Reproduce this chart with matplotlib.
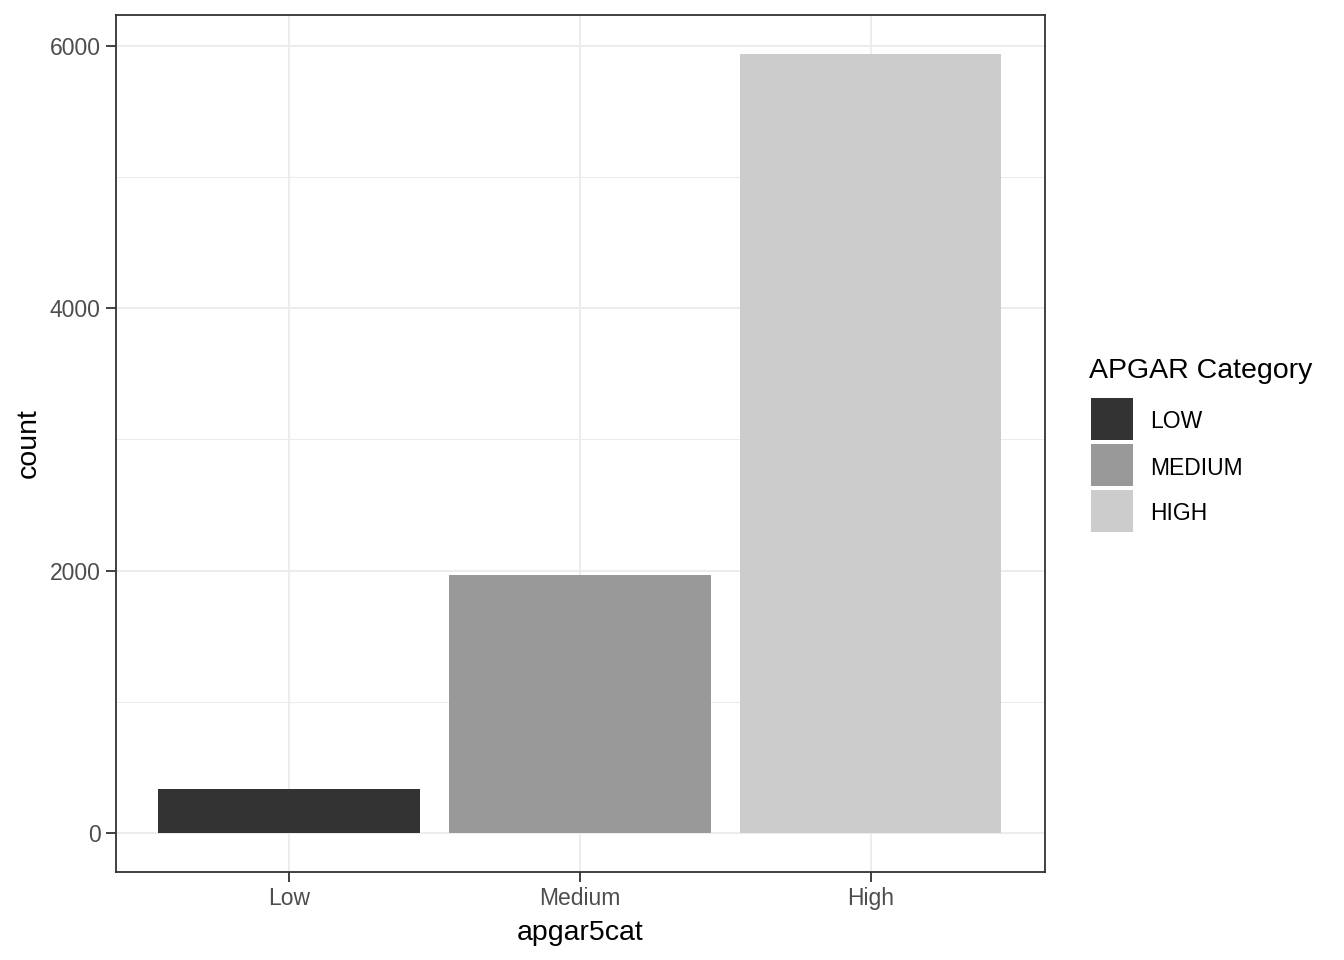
import matplotlib.pyplot as plt
from matplotlib.patches import Rectangle

categories = ['Low', 'Medium', 'High']
counts = [339, 1967, 5939]
legend_labels = ['LOW', 'MEDIUM', 'HIGH']
bar_colors = ['#333333', '#999999', '#CCCCCC']

plt.rcParams['font.family'] = ['Liberation Sans', 'DejaVu Sans']

W, H = 1344, 960
fig = plt.figure(figsize=(W / 100, H / 100), dpi=100)

# panel position in pixels
x0, x1, y0, y1 = 116, 1045, 15, 872
ax = fig.add_axes([x0 / W, 1 - y1 / H, (x1 - x0) / W, (y1 - y0) / H])

xpos = list(range(1, len(categories) + 1))
ax.bar(xpos, counts, width=0.9, color=bar_colors, zorder=3)

ymax = max(counts)
ax.set_xlim(0.405, 3.6)
ax.set_ylim(-0.05 * ymax, 1.05 * ymax)

ax.set_yticks([0, 2000, 4000, 6000])
ax.set_yticks([1000, 3000, 5000], minor=True)
ax.set_xticks(xpos)
ax.set_xticklabels(categories)

ax.grid(True, which='major', color='#EBEBEB', linewidth=1.3, zorder=0)
ax.grid(True, which='minor', axis='y', color='#EBEBEB', linewidth=0.7, zorder=0)
ax.set_axisbelow(True)

for s in ax.spines.values():
    s.set_color('#333333')
    s.set_linewidth(1.3)

ax.tick_params(which='major', length=7, width=1.3, color='#333333',
               labelsize=16.5, labelcolor='#4D4D4D', pad=4)
ax.tick_params(which='minor', length=0)

ax.set_xlabel('apgar5cat', fontsize=20.5, labelpad=7)
ax.set_ylabel('count', fontsize=20.5, labelpad=6)

# legend drawn in figure pixel coordinates
fig.text(1089 / W, 1 - 371 / H, 'APGAR Category', fontsize=20.5,
         va='center', ha='left')
key_tops = [398, 444, 490]
for top, col, lab in zip(key_tops, bar_colors, legend_labels):
    fig.patches.append(Rectangle((1091 / W, 1 - (top + 42) / H), 42 / W, 42 / H,
                                 transform=fig.transFigure, facecolor=col,
                                 edgecolor='none'))
    fig.text(1150 / W, 1 - (top + 24) / H, lab, fontsize=16.5,
             va='center', ha='left')

fig.savefig('out.png', dpi=100)
